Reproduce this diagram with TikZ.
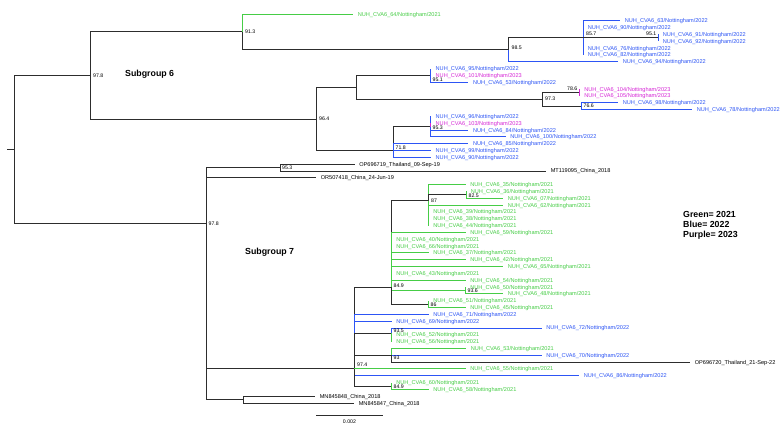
\documentclass[tikz,border=0pt]{standalone}
\usepackage{fontspec}
\setmainfont{Liberation Sans}
\definecolor{ck}{RGB}{45,45,45}
\definecolor{cg}{RGB}{70,205,70}
\definecolor{cb}{RGB}{45,85,245}
\definecolor{cp}{RGB}{215,40,215}
\tikzset{
 brk/.style={line width=0.85pt, draw=ck},
 brg/.style={line width=0.85pt, draw=cg},
 brb/.style={line width=0.85pt, draw=cb},
 brp/.style={line width=0.85pt, draw=cp},
 leaf/.style={anchor=west, inner xsep=4.6pt, inner ysep=0pt, text height=4pt, text depth=0pt, font=\fontsize{5.6}{6}\selectfont},
 lg/.style={leaf, text=cg}, lb/.style={leaf, text=cb}, lp/.style={leaf, text=cp}, lk/.style={leaf, text=black},
 bsv/.style={inner sep=0pt, text height=3.7pt, text depth=0pt, font=\fontsize{5.2}{6}\selectfont, text=black},
 bsl/.style={bsv, anchor=west}, bsr/.style={bsv, anchor=east},
 ttl/.style={anchor=west, inner sep=0pt, font=\fontsize{8.8}{10}\selectfont\bfseries, text height=6.3pt, text depth=0pt}
}
\begin{document}
\begin{tikzpicture}[x=1pt,y=-1pt]
\fill[white] (0,0) rectangle (784,429);
\useasboundingbox (0,0) rectangle (784,429);
% internal nodes
\coordinate (root0) at (7,149.2);
\coordinate (root) at (14,149.2);
\coordinate (s6) at (90,75.43);
\coordinate (n913) at (242,31.92);
\coordinate (n985) at (508,49.84);
\coordinate (n857) at (583,37.89);
\coordinate (n951a) at (658,37.89);
\coordinate (n964) at (316,118.94);
\coordinate (nI) at (356.3,87.37);
\coordinate (n951b) at (430.9,75.43);
\coordinate (n973) at (542.8,99.32);
\coordinate (n786) at (579.5,92.49);
\coordinate (n766) at (581,106.14);
\coordinate (n718) at (393.6,150.5);
\coordinate (n953b) at (430.9,126.62);
\coordinate (s7) at (206,223);
\coordinate (n953a) at (280,167.57);
\coordinate (n974) at (354,368.9);
\coordinate (nMN) at (243,399.6);
\coordinate (n849a) at (391.5,287);
\coordinate (n87) at (428.6,200.5);
\coordinate (n825) at (466,194.87);
\coordinate (n936) at (465.5,290.4);
\coordinate (n86) at (428.6,304.07);
\coordinate (n935) at (391.5,333);
\coordinate (n93) at (391.5,355.25);
\coordinate (n849b) at (391.5,385.97);
% leaves
\node[lg] (L64) at (353,14) {NUH\_CVA6\_64/Nottingham/2021};
\node[lb] (L63) at (620,20.83) {NUH\_CVA6\_63/Nottingham/2022};
\node[lb] (L90a) at (583,27.65) {NUH\_CVA6\_90/Nottingham/2022};
\node[lb] (L91) at (658,34.48) {NUH\_CVA6\_91/Nottingham/2022};
\node[lb] (L92) at (658,41.3) {NUH\_CVA6\_92/Nottingham/2022};
\node[lb] (L76) at (583,48.13) {NUH\_CVA6\_76/Nottingham/2022};
\node[lb] (L82) at (583,54.95) {NUH\_CVA6\_82/Nottingham/2022};
\node[lb] (L94) at (618,61.78) {NUH\_CVA6\_94/Nottingham/2022};
\node[lb] (L95) at (430.9,68.6) {NUH\_CVA6\_95/Nottingham/2022};
\node[lp] (L101) at (430.9,75.43) {NUH\_CVA6\_101/Nottingham/2023};
\node[lb] (L53a) at (468.2,82.25) {NUH\_CVA6\_53/Nottingham/2022};
\node[lp] (L104) at (579.5,89.08) {NUH\_CVA6\_104/Nottingham/2023};
\node[lp] (L105) at (579.5,95.9) {NUH\_CVA6\_105/Nottingham/2023};
\node[lb] (L98) at (618,102.73) {NUH\_CVA6\_98/Nottingham/2022};
\node[lb] (L78) at (692,109.55) {NUH\_CVA6\_78/Nottingham/2022};
\node[lb] (L96) at (430.9,116.38) {NUH\_CVA6\_96/Nottingham/2022};
\node[lp] (L103) at (430.9,123.2) {NUH\_CVA6\_103/Nottingham/2023};
\node[lb] (L84) at (468.2,130.03) {NUH\_CVA6\_84/Nottingham/2022};
\node[lb] (L100) at (505.5,136.85) {NUH\_CVA6\_100/Nottingham/2022};
\node[lb] (L85) at (468.2,143.68) {NUH\_CVA6\_85/Nottingham/2022};
\node[lb] (L99) at (430.9,150.5) {NUH\_CVA6\_99/Nottingham/2022};
\node[lb] (L90b) at (430.9,157.33) {NUH\_CVA6\_90/Nottingham/2022};
\node[lk] (LOP1) at (354.5,164.15) {OP696719\_Thailand\_09-Sep-19};
\node[lk] (LMT) at (546,170.98) {MT119095\_China\_2018};
\node[lk] (LOR) at (316,177.8) {OR507418\_China\_24-Jun-19};
\node[lg] (L35) at (465.5,184.63) {NUH\_CVA6\_35/Nottingham/2021};
\node[lg] (L36) at (466,191.45) {NUH\_CVA6\_36/Nottingham/2021};
\node[lg] (L07) at (503,198.28) {NUH\_CVA6\_07/Nottingham/2021};
\node[lg] (L62) at (503,205.1) {NUH\_CVA6\_62/Nottingham/2021};
\node[lg] (L39) at (428.6,211.93) {NUH\_CVA6\_39/Nottingham/2021};
\node[lg] (L38) at (428.6,218.75) {NUH\_CVA6\_38/Nottingham/2021};
\node[lg] (L44) at (428.6,225.58) {NUH\_CVA6\_44/Nottingham/2021};
\node[lg] (L59) at (465.5,232.4) {NUH\_CVA6\_59/Nottingham/2021};
\node[lg] (L40) at (391.5,239.23) {NUH\_CVA6\_40/Nottingham/2021};
\node[lg] (L66) at (391.5,246.05) {NUH\_CVA6\_66/Nottingham/2021};
\node[lg] (L37) at (428.6,252.88) {NUH\_CVA6\_37/Nottingham/2021};
\node[lg] (L42) at (465.5,259.7) {NUH\_CVA6\_42/Nottingham/2021};
\node[lg] (L65) at (503,266.53) {NUH\_CVA6\_65/Nottingham/2021};
\node[lg] (L43) at (391.5,273.35) {NUH\_CVA6\_43/Nottingham/2021};
\node[lg] (L54) at (465.5,280.18) {NUH\_CVA6\_54/Nottingham/2021};
\node[lg] (L50) at (465.5,287) {NUH\_CVA6\_50/Nottingham/2021};
\node[lg] (L48) at (503,293.83) {NUH\_CVA6\_48/Nottingham/2021};
\node[lg] (L51) at (428.6,300.65) {NUH\_CVA6\_51/Nottingham/2021};
\node[lg] (L45) at (465.5,307.48) {NUH\_CVA6\_45/Nottingham/2021};
\node[lb] (L71) at (428.6,314.3) {NUH\_CVA6\_71/Nottingham/2022};
\node[lb] (L69) at (391.5,321.13) {NUH\_CVA6\_69/Nottingham/2022};
\node[lb] (L72) at (541.5,327.95) {NUH\_CVA6\_72/Nottingham/2022};
\node[lg] (L52) at (391.5,334.78) {NUH\_CVA6\_52/Nottingham/2021};
\node[lg] (L56) at (391.5,341.6) {NUH\_CVA6\_56/Nottingham/2021};
\node[lg] (L53b) at (466,348.43) {NUH\_CVA6\_53/Nottingham/2021};
\node[lb] (L70) at (541.5,355.25) {NUH\_CVA6\_70/Nottingham/2022};
\node[lk] (LOP2) at (690,362.08) {OP696720\_Thailand\_21-Sep-22};
\node[lg] (L55) at (465.5,368.9) {NUH\_CVA6\_55/Nottingham/2021};
\node[lb] (L86) at (579,375.73) {NUH\_CVA6\_86/Nottingham/2022};
\node[lg] (L60) at (391.5,382.55) {NUH\_CVA6\_60/Nottingham/2021};
\node[lg] (L58) at (428.6,389.38) {NUH\_CVA6\_58/Nottingham/2021};
\node[lk] (LMN8) at (315,396.2) {MN845848\_China\_2018};
\node[lk] (LMN7) at (354,403.03) {MN845847\_China\_2018};
% branches
\draw[brk] (root0) -- (root);
\draw[brk] (root) |- (s6);
\draw[brk] (root) |- (s7);
\draw[brk] (s6) |- (n913);
\draw[brk] (s6) |- (n964);
\draw[brg] (n913) |- (L64.west);
\draw[brk] (n913) |- (n985);
\draw[brk] (n985) |- (n857);
\draw[brb] (n985) |- (L94.west);
\draw[brb] (n857) |- (L63.west);
\draw[brb] (n857) |- (L90a.west);
\draw[brk] (n857) |- (n951a);
\draw[brb] (n857) |- (L76.west);
\draw[brb] (n857) |- (L82.west);
\draw[brb] (n951a) |- (L91.west);
\draw[brb] (n951a) |- (L92.west);
\draw[brk] (n964) |- (nI);
\draw[brk] (n964) |- (n718);
\draw[brk] (nI) |- (n951b);
\draw[brk] (nI) |- (n973);
\draw[brb] (n951b) |- (L95.west);
\draw[brp] (n951b) |- (L101.west);
\draw[brb] (n951b) |- (L53a.west);
\draw[brk] (n973) |- (n786);
\draw[brk] (n973) |- (n766);
\draw[brp] (n786) |- (L104.west);
\draw[brp] (n786) |- (L105.west);
\draw[brb] (n766) |- (L98.west);
\draw[brb] (n766) |- (L78.west);
\draw[brk] (n718) |- (n953b);
\draw[brb] (n718) |- (L85.west);
\draw[brb] (n718) |- (L99.west);
\draw[brb] (n718) |- (L90b.west);
\draw[brb] (n953b) |- (L96.west);
\draw[brp] (n953b) |- (L103.west);
\draw[brb] (n953b) |- (L84.west);
\draw[brb] (n953b) |- (L100.west);
\draw[brk] (s7) |- (n953a);
\draw[brk] (s7) |- (LOR.west);
\draw[brk] (s7) |- (n974);
\draw[brk] (s7) |- (nMN);
\draw[brk] (n953a) |- (LOP1.west);
\draw[brk] (n953a) |- (LMT.west);
\draw[brk] (n974) |- (n849a);
\draw[brb] (n974) |- (L71.west);
\draw[brb] (n974) |- (L69.west);
\draw[brk] (n974) |- (n935);
\draw[brk] (n974) |- (n93);
\draw[brg] (n974) |- (L55.west);
\draw[brb] (n974) |- (L86.west);
\draw[brk] (n974) |- (n849b);
\draw[brk] (n849a) |- (n87);
\draw[brg] (n849a) |- (L59.west);
\draw[brg] (n849a) |- (L40.west);
\draw[brg] (n849a) |- (L66.west);
\draw[brg] (n849a) |- (L37.west);
\draw[brg] (n849a) |- (L42.west);
\draw[brg] (n849a) |- (L65.west);
\draw[brg] (n849a) |- (L43.west);
\draw[brg] (n849a) |- (L54.west);
\draw[brg] (n849a) |- (n936);
\draw[brk] (n849a) |- (n86);
\draw[brg] (n87) |- (L35.west);
\draw[brk] (n87) |- (n825);
\draw[brg] (n87) |- (L62.west);
\draw[brg] (n87) |- (L39.west);
\draw[brg] (n87) |- (L38.west);
\draw[brg] (n87) |- (L44.west);
\draw[brg] (n825) |- (L36.west);
\draw[brg] (n825) |- (L07.west);
\draw[brg] (n936) |- (L50.west);
\draw[brg] (n936) |- (L48.west);
\draw[brg] (n86) |- (L51.west);
\draw[brg] (n86) |- (L45.west);
\draw[brb] (n935) |- (L72.west);
\draw[brg] (n935) |- (L52.west);
\draw[brg] (n935) |- (L56.west);
\draw[brg] (n93) |- (L53b.west);
\draw[brb] (n93) |- (L70.west);
\draw[brk] (n93) |- (LOP2.west);
\draw[brg] (n849b) |- (L60.west);
\draw[brg] (n849b) |- (L58.west);
\draw[brk] (nMN) |- (LMN8.west);
\draw[brk] (nMN) |- (LMN7.west);
% bootstrap labels
\node[bsl] (b1) at (93,75.4) {97.8};
\node[bsl] (b2) at (245,31.5) {91.3};
\node[bsl] (b3) at (511.5,48) {98.5};
\node[bsl] (b4) at (586,33.8) {85.7};
\node[bsr] (b5) at (656.5,33.8) {95.1};
\node[bsl] (b6) at (319,119) {96.4};
\node[bsl] (b7) at (432.5,79.9) {95.1};
\node[bsl] (b8) at (545,99) {97.3};
\node[bsr] (b9) at (577.5,88.5) {78.6};
\node[bsl] (b10) at (583.5,106) {76.6};
\node[bsl] (b11) at (432.5,127.4) {95.3};
\node[bsl] (b12) at (395.5,147.5) {71.8};
\node[bsl] (b13) at (282,167.5) {95.3};
\node[bsl] (b14) at (208.5,224) {97.8};
\node[bsl] (b15) at (431,201) {87};
\node[bsl] (b16) at (468.5,195.5) {82.5};
\node[bsl] (b17) at (393.5,286) {84.9};
\node[bsl] (b18) at (467.5,291) {93.6};
\node[bsl] (b19) at (430.5,304.7) {86};
\node[bsl] (b20) at (393.5,330.5) {93.5};
\node[bsl] (b21) at (393.5,358) {93};
\node[bsl] (b22) at (357,364.3) {97.4};
\node[bsl] (b23) at (393.5,387) {84.9};
% group titles and legend
\node[ttl] (sg6) at (125,73.5) {Subgroup 6};
\node[ttl] (sg7) at (245,251.3) {Subgroup 7};
\node[ttl] (key1) at (683,214) {Green= 2021};
\node[ttl] (key2) at (683,224) {Blue= 2022};
\node[ttl] (key3) at (683,234) {Purple= 2023};
% scale bar
\coordinate (sb1) at (316,415);
\coordinate (sb2) at (383,415);
\draw[brk, line width=0.7pt] (sb1) -- (sb2);
\node[bsv] (sbl) at (349.5,421.5) {0.002};
\end{tikzpicture}
\end{document}
